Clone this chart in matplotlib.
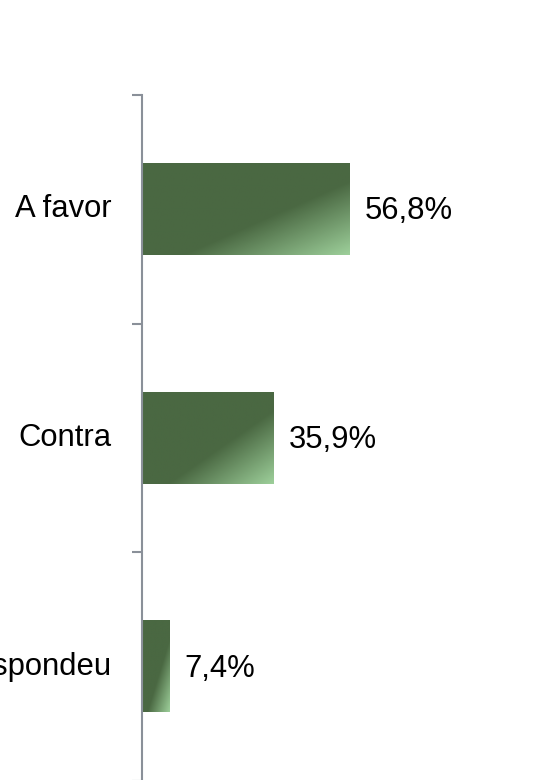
import matplotlib.pyplot as plt
import numpy as np
from matplotlib.colors import LinearSegmentedColormap

plt.rcParams['font.family'] = ['Liberation Sans', 'DejaVu Sans']

categories = ['A favor', 'Contra', 'Não respondeu']
values = [56.8, 35.9, 7.4]
value_labels = ['56,8%', '35,9%', '7,4%']

dark = '#4a6842'
light = '#9dcf9a'
cmap = LinearSegmentedColormap.from_list('bar', [(0, dark), (0.6, dark), (1, light)])

fig = plt.figure(figsize=(5.56, 7.80), dpi=100)
ax = fig.add_axes([142 / 556, -1 / 780, 1 - 142 / 556, (780 - 95 + 1) / 780])

bar_h = 0.40
# gradient along the diagonal of each bar (top-left dark -> bottom-right light)
u = np.linspace(0, 1, 200)
v = np.linspace(0, 1, 100)
U, V = np.meshgrid(u, v)
grad = (U + V) / 2

for i, val in enumerate(values):
    ax.imshow(grad, cmap=cmap, vmin=0, vmax=1, aspect='auto',
              extent=(0, val, i + bar_h / 2, i - bar_h / 2),
              interpolation='bilinear', zorder=2)
    ax.annotate(value_labels[i], (val, i), xytext=(15, -2), textcoords='offset pixels',
                ha='left', va='center', fontsize=22.3, color='black')

ax.set_xlim(0, (556 - 142) / 3.66)
ax.set_ylim(2.5, -0.5)

# boundary ticks between categories, labels at centres
ax.set_yticks([-0.5, 0.5, 1.5, 2.5])
ax.set_yticklabels([])
ax.set_yticks(range(len(categories)), minor=True)
ax.set_yticklabels(categories, minor=True, fontsize=22.3, va='center')
for lbl in ax.get_yticklabels(minor=True):
    lbl.set_y(lbl.get_position()[1])
axis_col = '#8a9099'
ax.tick_params(axis='y', which='major', length=7.5, width=1.5, color=axis_col)
ax.tick_params(axis='y', which='minor', length=0, pad=22)

for s in ['top', 'right', 'bottom']:
    ax.spines[s].set_visible(False)
ax.spines['left'].set_color(axis_col)
ax.spines['left'].set_linewidth(1.5)
ax.set_xticks([])

fig.savefig('out.png', dpi=100)
